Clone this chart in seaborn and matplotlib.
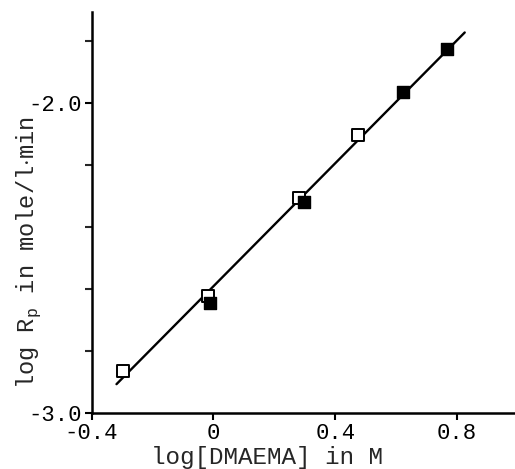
import matplotlib
matplotlib.use("Agg")
import matplotlib.pyplot as plt
import seaborn as sns
import pandas as pd
from matplotlib.ticker import MultipleLocator

# Data
open_x = [-0.297, -0.017, 0.282, 0.476]
open_y = [-2.866, -2.624, -2.306, -2.104]
filled_x = [-0.011, 0.296, 0.621, 0.767]
filled_y = [-2.645, -2.320, -1.965, -1.826]
fit_x = [-0.318, 0.825]
fit_y = [-2.907, -1.773]
x_ticks = [-0.4, 0.0, 0.4, 0.8]
x_tick_labels = ["-0.4", "0", "0.4", "0.8"]
y_ticks = [-3.0, -2.0]
y_tick_labels = ["-3.0", "-2.0"]

sns.set_style("ticks")
plt.rcParams["font.family"] = ["Liberation Mono", "DejaVu Sans Mono"]
plt.rcParams["mathtext.fontset"] = "custom"
plt.rcParams["mathtext.rm"] = "Liberation Mono"

fig = plt.figure(figsize=(5.15, 4.69), dpi=100)
ax = fig.add_axes([0.1777, 0.1194, 0.8223, 0.855])

sns.lineplot(x=fit_x, y=fit_y, ax=ax, color="black", linewidth=1.7)
sns.scatterplot(x=open_x, y=open_y, ax=ax, marker="s", s=85,
                facecolor="white", edgecolor="black", linewidth=1.4, zorder=3)
sns.scatterplot(x=filled_x, y=filled_y, ax=ax, marker="s", s=85,
                color="black", edgecolor="black", linewidth=1.0, zorder=4)

ax.set_xlim(-0.4, 0.99)
ax.set_ylim(-3.0, -1.707)
ax.set_xticks(x_ticks)
ax.set_xticklabels(x_tick_labels)
ax.set_yticks(y_ticks)
ax.set_yticklabels(y_tick_labels)
ax.yaxis.set_minor_locator(MultipleLocator(0.2))

sns.despine(ax=ax)
for sp in ["left", "bottom"]:
    ax.spines[sp].set_linewidth(1.8)
    ax.spines[sp].set_color("black")

ax.tick_params(axis="both", which="major", direction="out", length=5, width=1.5,
               labelsize=16, colors="black", pad=2)
ax.tick_params(axis="y", which="minor", direction="out", length=5, width=1.5)

ax.set_xlabel("log[DMAEMA] in M", fontsize=17.5)
ax.xaxis.set_label_coords(0.414, -0.083)
ax.set_ylabel(r"log R$_{\mathregular{p}}$ in mole/l$\cdot$min", fontsize=17)
ax.yaxis.set_label_coords(-0.114, 0.40)

fig.savefig("out.png", dpi=100)
